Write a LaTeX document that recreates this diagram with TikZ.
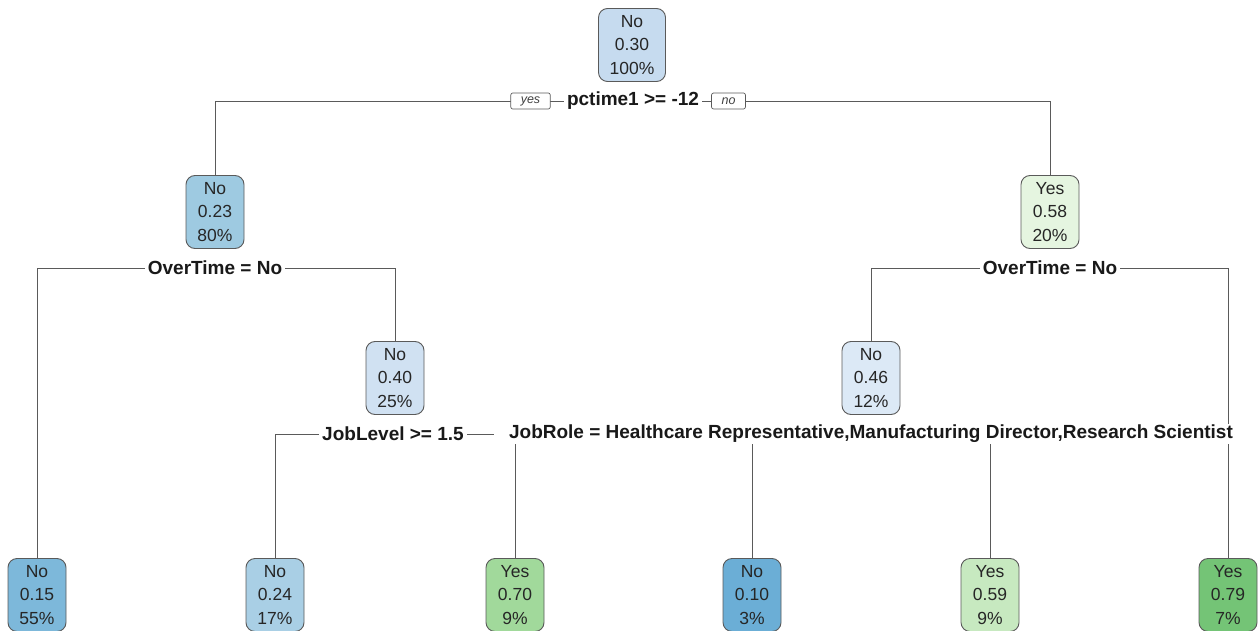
\documentclass[tikz,border=0pt]{standalone}
\usepackage{fontspec}
\setmainfont{Liberation Sans}
\usetikzlibrary{backgrounds}
\definecolor{edgec}{HTML}{5A5A5A}
\definecolor{c030}{HTML}{C6DBEF}
\definecolor{c023}{HTML}{9ECAE1}
\definecolor{c040}{HTML}{D0E1F2}
\definecolor{c046}{HTML}{DCE9F6}
\definecolor{c058}{HTML}{E5F5E0}
\definecolor{c015}{HTML}{7DB8DA}
\definecolor{c024}{HTML}{A9CFE5}
\definecolor{c070}{HTML}{A1D99B}
\definecolor{c010}{HTML}{6BAED6}
\definecolor{c059}{HTML}{C7E9C0}
\definecolor{c079}{HTML}{74C476}
\tikzset{
  tnode/.style={draw=edgec, line width=0.9pt, rounded corners=9pt, align=center,
    minimum width=58pt, minimum height=73pt, inner sep=2pt, text=black!85,
    font=\fontsize{17.5}{23.5}\selectfont},
  splitlab/.style={fill=white, inner xsep=3pt, inner ysep=1pt, text=black!90,
    font=\fontsize{19}{21}\selectfont\bfseries},
  yn/.style={draw=edgec, fill=white, rounded corners=2pt, line width=0.7pt,
    minimum height=16pt, inner xsep=10pt, inner ysep=1pt, text=black!75,
    font=\fontsize{12.5}{14}\selectfont\itshape},
  edge/.style={draw=edgec, line width=0.8pt}
}
\begin{document}
\begin{tikzpicture}[x=1pt,y=-1pt]
\useasboundingbox (0,0) rectangle (1260,631);
% internal nodes
\node[tnode, fill=c030, minimum width=67pt] (n1) at (632,45) {No\\0.30\\100\%};
\node[tnode, fill=c023] (n2) at (215,212) {No\\0.23\\80\%};
\node[tnode, fill=c058] (n3) at (1050,212) {Yes\\0.58\\20\%};
\node[tnode, fill=c040] (n4) at (395,378) {No\\0.40\\25\%};
\node[tnode, fill=c046] (n5) at (871,378) {No\\0.46\\12\%};
% leaves
\node[tnode, fill=c015] (l1) at (37,595) {No\\0.15\\55\%};
\node[tnode, fill=c024] (l2) at (275,595) {No\\0.24\\17\%};
\node[tnode, fill=c070] (l3) at (515,595) {Yes\\0.70\\9\%};
\node[tnode, fill=c010] (l4) at (752,595) {No\\0.10\\3\%};
\node[tnode, fill=c059] (l5) at (990,595) {Yes\\0.59\\9\%};
\node[tnode, fill=c079] (l6) at (1228,595) {Yes\\0.79\\7\%};
% split labels
\node[splitlab] (s1) at (633,101) {pctime1 >= -12};
\node[splitlab] (s2) at (215,268) {OverTime = No};
\node[splitlab] (s3) at (1050,268) {OverTime = No};
\node[splitlab] (s4) at (393,434) {JobLevel >= 1.5};
\node[splitlab, inner xsep=1pt] (s5) at (864,434) {\hspace*{14pt}JobRole = Healthcare Representative,Manufacturing Director,Research Scientist};
\node[yn] (yes) at (530.5,101) {yes};
\node[yn] (no) at (728.5,101) {no};
\begin{scope}[on background layer]
\draw[edge] (n2.north) |- (s1) -| (n3.north);
\draw[edge] (l1.north) |- (s2) -| (n4.north);
\draw[edge] (n5.north) |- (s3) -| (l6.north);
\draw[edge] (l2.north) |- (s4) -| (l3.north);
\draw[edge] (l4.north) |- (s5) -| (l5.north);
\end{scope}
\end{tikzpicture}
\end{document}
